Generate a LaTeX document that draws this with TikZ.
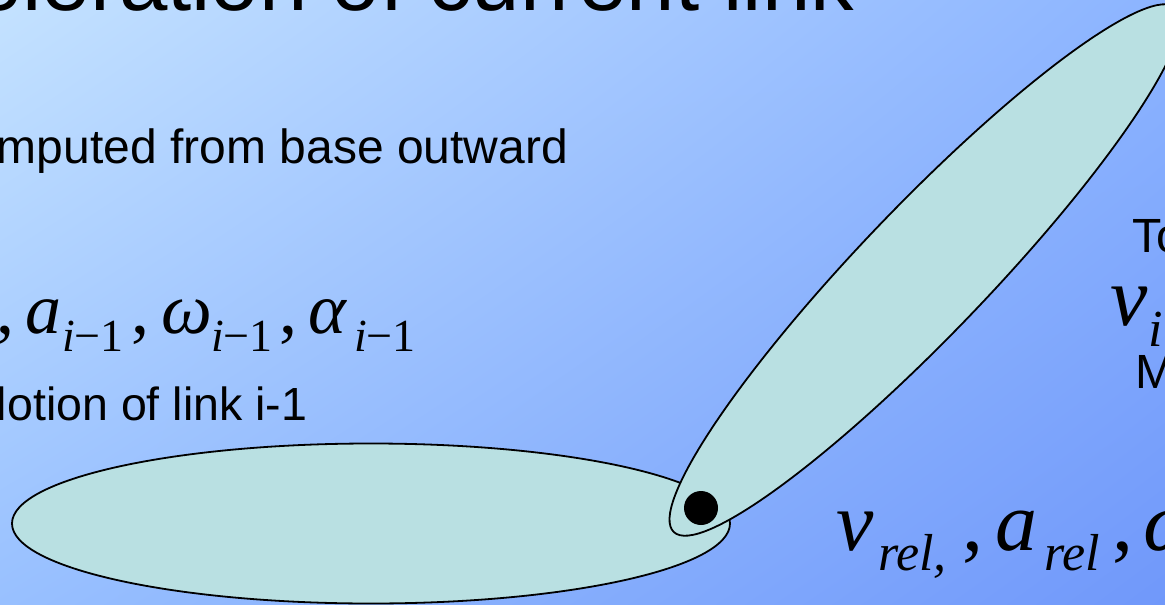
\documentclass[tikz,border=0pt]{standalone}
\usepackage{fontspec}
\setmainfont{Liberation Sans}
\newfontfamily\tnr{Liberation Serif}
\usetikzlibrary{shapes.geometric,shadings}
\definecolor{bgUL}{RGB}{196,226,255}
\definecolor{bgUR}{RGB}{140,180,255}
\definecolor{bgLL}{RGB}{152,192,255}
\definecolor{bgLR}{RGB}{112,152,250}
\definecolor{linkfill}{RGB}{185,224,226}
\begin{document}
\begin{tikzpicture}[x=1pt,y=-1pt,
  txt/.style={inner sep=0pt,outer sep=0pt,anchor=base west},
  titletext/.style={txt,font=\fontsize{87}{100}\selectfont},
  bodytext/.style={txt,font=\fontsize{48}{56}\selectfont},
  smalltext/.style={txt,font=\fontsize{46.5}{56}\selectfont},
  mleft/.style={txt,font=\fontsize{72}{80}\selectfont\tnr\itshape},
  mleftsub/.style={txt,font=\fontsize{46}{50}\selectfont\tnr\itshape},
  mbig/.style={txt,font=\fontsize{84}{90}\selectfont\tnr\itshape},
  mbigsub/.style={txt,font=\fontsize{52}{56}\selectfont\tnr\itshape},
  link/.style={ellipse,draw=black,line width=1.8pt,fill=linkfill,inner sep=0pt,outer sep=0pt,anchor=center},
  joint/.style={circle,fill=black,inner sep=0pt,outer sep=0pt,minimum size=34pt,anchor=center}]
\useasboundingbox (0,0) rectangle (1165,605);
\clip (0,0) rectangle (1165,605);
\shade[upper left=bgUL,upper right=bgUR,lower left=bgLL,lower right=bgLR] (0,0) rectangle (1165,605);

% links
\node[link,minimum width=718pt,minimum height=160pt] (linkA) at (371,523.5) {};
\node[link,minimum width=726pt,minimum height=128pt,rotate=46.2] (linkB) at (925,270) {};
\node[joint] (jointA) at (701,508) {};

% text
\node[titletext] (title) at (-26,10) {eleration of current link};
\node[bodytext] (line1) at (-3,163) {mputed from base outward};
\node[smalltext] (line2) at (-3,420) {lotion of link i-1};
\node[bodytext] (to) at (1132,252) {To};
\node[bodytext] (mm) at (1135,388) {M};

% left math
\node[mleft] (lc0) at (-4,333) {\upshape,};
\node[mleft] (la) at (25,333) {a};
\node[mleftsub] (las) at (62,351) {i\upshape−1};
\node[mleft] (lc1) at (131,333) {\upshape,};
\node[mleft] (lw) at (161,333) {ω};
\node[mleftsub] (lws) at (211,351) {i\upshape−1};
\node[mleft] (lc2) at (279,333) {\upshape,};
\node[mleft] (lal) at (308,333) {α};
\node[mleftsub] (lals) at (354,351) {i\upshape−1};

% right math
\node[mbig] (rv) at (1110,325) {v};
\node[mbigsub] (rvs) at (1148,346) {i};

% bottom math
\node[mbig] (bv) at (836,550) {v};
\node[mbigsub] (bvs) at (878,570) {rel,};
\node[mbig] (bc1) at (962,550) {\upshape,};
\node[mbig] (ba) at (995,550) {a};
\node[mbigsub] (bas) at (1044,570) {rel};
\node[mbig] (bc2) at (1112,550) {\upshape,};
\node[mbig] (bw) at (1143,550) {ω};
\end{tikzpicture}
\end{document}
